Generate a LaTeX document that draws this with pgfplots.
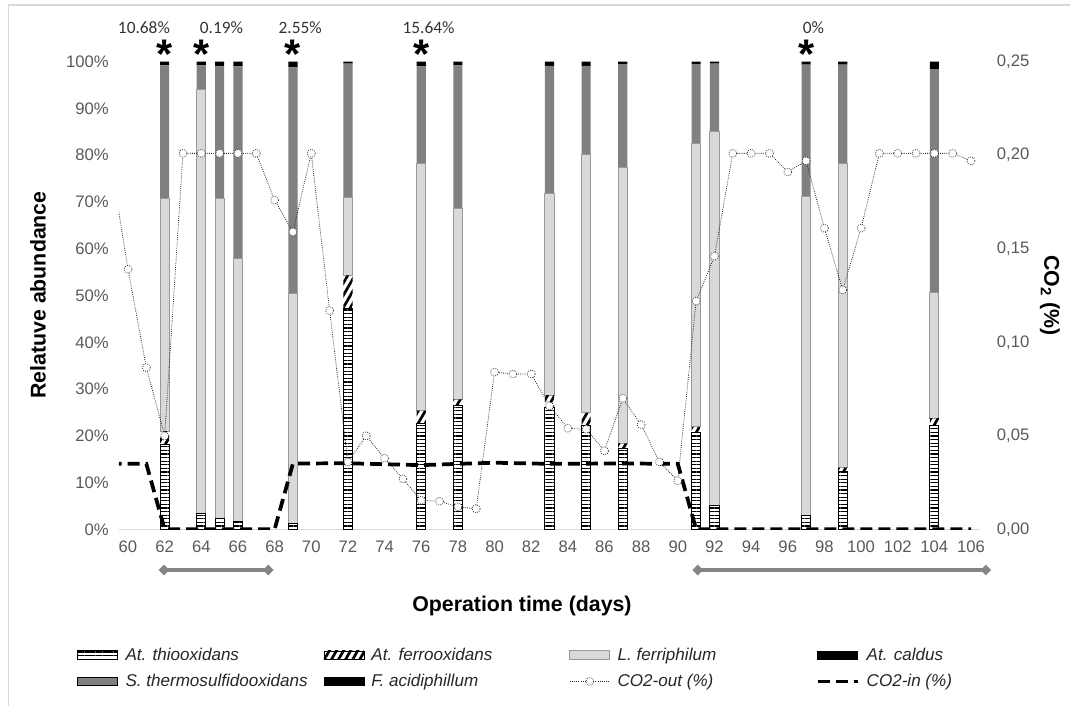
\documentclass[border=0pt]{standalone}
\usepackage{pgfplots}
\pgfplotsset{compat=1.18}
\usepackage{pgfplotstable}
\usepackage{fontspec}
\setmainfont{Liberation Sans}
\newfontfamily\calibrifont{Carlito}
\usetikzlibrary{patterns,patterns.meta,arrows.meta}
\definecolor{framegray}{HTML}{D9D9D9}
\definecolor{ticktext}{HTML}{595959}
\definecolor{lferri}{HTML}{D9D9D9}
\definecolor{lferriedge}{HTML}{999999}
\definecolor{sthermo}{HTML}{808080}
\definecolor{arrowgray}{HTML}{858585}
\newcommand\tickfont{\fontsize{12.5pt}{15pt}\selectfont}
\newcommand\titlefont{\fontsize{16pt}{19pt}\selectfont\bfseries}
\newcommand\pctfont{\calibrifont\fontsize{13pt}{15pt}\selectfont}
\newcommand\starfont{\fontsize{31pt}{31pt}\selectfont\bfseries}

\pgfplotsset{
  /pgfplots/barleg/.style={legend image code/.code={\draw[##1] (0pt,-3.2pt) rectangle (30pt,3.2pt);}},
  /pgfplots/lineleg/.style={legend image code/.code={\draw[mark repeat=2,mark phase=2,##1] plot coordinates {(0pt,0pt) (15pt,0pt) (30pt,0pt)};}},
  /pgfplots/thio/.style={pattern={Lines[angle=0,distance=2.7pt,line width=0.8pt]}, pattern color=black, draw=black, line width=0.7pt},
  /pgfplots/ferro/.style={pattern={Lines[angle=60,distance=4.6pt,line width=2pt]}, pattern color=black, draw=none},
  /pgfplots/lfer/.style={fill=lferri, draw=lferriedge, line width=0.7pt},
  /pgfplots/caldus/.style={fill=black, draw=none},
  /pgfplots/sth/.style={fill=sthermo, draw=none},
  /pgfplots/facid/.style={fill=black, draw=none},
  /pgfplots/co2out/.style={densely dotted, line width=0.6pt, color=black!85, mark=*, mark size=3pt, mark options={solid, fill=white, draw=black!80, densely dotted, line width=0.6pt}},
  /pgfplots/co2in/.style={black, line width=2.8pt, dash pattern=on 9pt off 4.5pt},
}

% relative abundance (%) of each group, stacked bottom to top
\pgfplotstableread{
day  thio  ferro lfer  sth   facid
62   18.2  2.8   49.7  28.5  0.8
64   3.4   0.0   90.6  5.2   0.8
65   2.3   0.0   68.4  28.3  1.0
66   1.7   0.0   56.3  41.0  1.0
69   1.3   0.0   49.1  48.4  1.2
72   47.2  7.1   16.7  28.6  0.4
76   22.6  2.8   52.8  20.8  1.0
78   26.5  1.3   40.8  30.6  0.8
83   26.0  2.7   43.1  27.3  0.9
85   22.2  2.7   55.3  18.9  0.9
87   17.3  1.1   58.9  22.2  0.5
91   20.7  1.2   60.6  17.0  0.5
92   5.1   0.0   79.9  14.6  0.4
97   3.0   0.0   68.2  28.2  0.6
99   12.3  0.9   65.1  21.1  0.6
104  22.2  1.6   26.8  47.8  1.6
}\bardata

\pgfplotstableread{
day co2
59  0.200
60  0.139
61  0.0865
62  0.050
63  0.201
64  0.201
65  0.201
66  0.201
67  0.201
68  0.176
69  0.159
70  0.201
71  0.117
72  0.036
73  0.050
74  0.038
75  0.027
76  0.0155
77  0.015
78  0.012
79  0.011
80  0.084
81  0.083
82  0.083
83  0.066
84  0.054
85  0.0535
86  0.042
87  0.070
88  0.056
89  0.036
90  0.026
91  0.122
92  0.146
93  0.201
94  0.201
95  0.201
96  0.191
97  0.197
98  0.161
99  0.128
100 0.161
101 0.201
102 0.201
103 0.201
104 0.201
105 0.201
106 0.197
}\cotwoout

\pgfplotstableread{
day co2
59  0.0350
61  0.0350
62  0.0
68  0.0
69  0.0352
72  0.0353
76  0.0343
78  0.0350
80  0.0356
83  0.0350
87  0.0352
90  0.0350
91  0.0
106 0.0
}\cotwoin

\begin{document}
\begin{tikzpicture}
\useasboundingbox (-89.13pt,-132.53pt) rectangle (713.37pt,396.98pt);
\draw[framegray, line width=0.8pt] (-83.1pt,-132.53pt) -- (-83.1pt,393.2pt) -- (713.37pt,393.2pt);

\begin{axis}[
  at={(0pt,0pt)}, anchor=south west,
  scale only axis, width=646pt, height=350.7pt,
  xmin=59.5, xmax=106.5, ymin=0, ymax=100,
  clip=false,
  ybar stacked, bar width=0.5,
  separate axis lines,
  axis x line*=bottom, axis y line*=left,
  x axis line style={draw=framegray, line width=0.8pt, -},
  y axis line style={draw=none},
  major tick length=0pt, tick style={draw=none},
  xtick={60,62,...,106},
  ytick={0,10,...,100},
  yticklabel={\pgfmathprintnumber{\tick}\%},
  /pgf/number format/assume math mode=true,
  ticklabel style={font=\tickfont, text=ticktext},
  xticklabel style={yshift=-5pt},
  yticklabel style={xshift=-4pt},
  xlabel={Operation time (days)},
  ylabel={Relatuve abundance},
  every axis x label/.style={at={(axis description cs:0.468,-0.164)}, anchor=center, font=\titlefont},
  every axis y label/.style={at={(axis description cs:-0.0939,0.501)}, anchor=center, rotate=90, font=\titlefont},
]
\addplot[thio]  table[x=day,y=thio]  {\bardata};
\addplot[ferro] table[x=day,y=ferro] {\bardata};
\addplot[lfer]  table[x=day,y=lfer]  {\bardata};
\addplot[sth]   table[x=day,y=sth]   {\bardata};
\addplot[facid] table[x=day,y=facid] {\bardata};

\node[font=\starfont, anchor=base] at (axis cs:62,98.6) {*};
\node[font=\starfont, anchor=base] at (axis cs:64,98.6) {*};
\node[font=\starfont, anchor=base] at (axis cs:69,98.6) {*};
\node[font=\starfont, anchor=base] at (axis cs:76,98.6) {*};
\node[font=\starfont, anchor=base] at (axis cs:97,98.6) {*};
\node[font=\pctfont, text=black!80] at (axis cs:60.87,107.2) {10.68\%};
\node[font=\pctfont, text=black!80] at (axis cs:65.1,107.2) {0.19\%};
\node[font=\pctfont, text=black!80] at (axis cs:69.4,107.2) {2.55\%};
\node[font=\pctfont, text=black!80] at (axis cs:76.4,107.2) {15.64\%};
\node[font=\pctfont, text=black!80] at (axis cs:97.4,107.2) {0\%};

\draw[arrowgray, line width=3pt, {Diamond[length=8pt,width=8pt]}-{Diamond[length=8pt,width=8pt]}] (axis cs:61.67,-8.7) -- (axis cs:67.94,-8.7);
\draw[arrowgray, line width=3pt, {Diamond[length=8pt,width=8pt]}-{Diamond[length=8pt,width=8pt]}] (axis cs:90.8,-8.7) -- (axis cs:107.1,-8.7);
\end{axis}

\begin{axis}[
  at={(0pt,0pt)}, anchor=south west,
  scale only axis, width=646pt, height=350.7pt,
  xmin=59.5, xmax=106.5, ymin=0, ymax=0.25,
  hide x axis,
  axis y line*=right,
  y axis line style={draw=none},
  major tick length=0pt, tick style={draw=none},
  ytick={0,0.05,0.1,0.15,0.2,0.25},
  scaled y ticks=false,
  y tick label style={/pgf/number format/fixed, /pgf/number format/fixed zerofill, /pgf/number format/precision=2, /pgf/number format/use comma, font=\tickfont, text=ticktext, xshift=9pt},
  /pgf/number format/assume math mode=true,
  ylabel={CO\textsubscript{2} (\%)},
  every axis y label/.style={at={(axis description cs:1.081,0.5)}, anchor=center, rotate=-90, font=\titlefont},
  legend columns=4,
  legend cell align=left,
  legend style={at={(axis description cs:-0.0486,-0.2474)}, anchor=north west, draw=none, fill=none,
    font=\itshape\fontsize{12.8pt}{15pt}\selectfont, text=black!85,
    /tikz/every odd column/.append style={column sep=3.5pt},
    /tikz/every even column/.append style={column sep=0pt}, row sep=5pt, inner sep=0pt},
]
\addlegendimage{thio, barleg}\addlegendentry{\makebox[146.5pt][l]{At. thiooxidans}}
\addlegendimage{ferro, barleg}\addlegendentry{\makebox[146.5pt][l]{At. ferrooxidans}}
\addlegendimage{lfer, barleg}\addlegendentry{\makebox[146.5pt][l]{L. ferriphilum}}
\addlegendimage{caldus, barleg}\addlegendentry{\makebox[146.5pt][l]{At. caldus}}
\addlegendimage{sth, barleg}\addlegendentry{\makebox[146.5pt][l]{S. thermosulfidooxidans}}
\addlegendimage{facid, barleg}\addlegendentry{\makebox[146.5pt][l]{F. acidiphillum}}
\addplot[co2out, lineleg] table[x=day,y=co2] {\cotwoout};
\addlegendentry{\makebox[146.5pt][l]{CO2-out (\%)}}
\addplot[co2in, lineleg] table[x=day,y=co2] {\cotwoin};
\addlegendentry{\makebox[146.5pt][l]{CO2-in (\%)}}
\end{axis}
\end{tikzpicture}
\end{document}
